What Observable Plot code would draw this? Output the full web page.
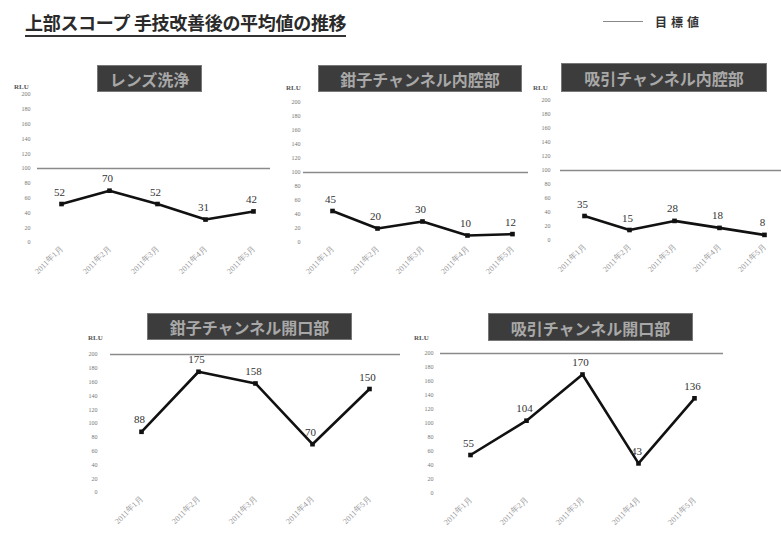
<!DOCTYPE html>
<html>
<head>
<meta charset="utf-8">
<script src="https://cdn.jsdelivr.net/npm/d3@7"></script>
<script src="https://cdn.jsdelivr.net/npm/@observablehq/plot@0.6"></script>
<style>
  body { margin: 0; background: #fff; }
  #wrap { position: relative; width: 781px; height: 535px; overflow: hidden; background: #fff;
          font-family: "Noto Sans CJK JP", "Noto Sans", sans-serif; }
  .abs { position: absolute; }
  .title { left: 25px; top: 9px; font-size: 18px; letter-spacing: -0.3px; color: #2a2a2a; font-weight: bold;
           border-bottom: 2.5px solid #333; line-height: 26px; white-space: nowrap; }
  .legline { left: 603px; top: 21px; width: 40px; height: 0; border-top: 1.5px solid #888; }
  .legtext { left: 655px; top: 13px; font-size: 12px; letter-spacing: 4px; color: #333; font-weight: bold; }
  .pt { background: #3c3c3c; color: #a8a8a8; border: 1px solid #777; text-align: center; font-weight: bold;
        font-size: 16px; line-height: 26px; white-space: nowrap; overflow: hidden; box-sizing: border-box; }
  .rlu { font-size: 7px; color: #555; font-family: "Liberation Serif", "Times New Roman", serif; font-weight: bold; }
  svg text { font-family: "Liberation Serif", "Times New Roman", serif; }
</style>
</head>
<body>
<div id="wrap">
  <div class="abs title">上部スコープ 手技改善後の平均値の推移</div>
  <div class="abs legline"></div>
  <div class="abs legtext">目標値</div>
</div>
<script>
// ---- data ----
const months = ["2011年1月", "2011年2月", "2011年3月", "2011年4月", "2011年5月"];
const yTicks = [0, 20, 40, 60, 80, 100, 120, 140, 160, 180, 200];
const panelNames = ["レンズ洗浄", "鉗子チャンネル内腔部", "吸引チャンネル内腔部", "鉗子チャンネル開口部", "吸引チャンネル開口部"];
const lensValues = [52, 70, 52, 31, 42];
const forcepsInnerValues = [45, 20, 30, 10, 12];
const suctionInnerValues = [35, 15, 28, 18, 8];
const forcepsOpeningValues = [88, 175, 158, 70, 150];
const suctionOpeningValues = [55, 104, 170, 43, 136];
const targets = [100, 100, 100, 200, 200];

const seriesList = [lensValues, forcepsInnerValues, suctionInnerValues, forcepsOpeningValues, suctionOpeningValues];

// ---- layout (positions only) ----
const layouts = [
  {left: 0,   top: 80,  width: 272, height: 215, mL: 37, mR: 2,  mT: 14, mB: 53, iL: 23, iR: 17, pad: 7,
   box: [97, 65, 105, 27], rlu: [14, 83]},
  {left: 270, top: 80,  width: 260, height: 215, mL: 33, mR: 2,  mT: 22, mB: 53, iL: 28, iR: 15, pad: 3,
   box: [318, 65, 204, 27], rlu: [286, 84]},
  {left: 530, top: 80,  width: 251, height: 215, mL: 30, mR: 0,  mT: 20, mB: 55, iL: 22, iR: 16, pad: 10,
   box: [561, 63, 206, 29], rlu: [533, 84]},
  {left: 60,  top: 345, width: 340, height: 190, mL: 50, mR: 0,  mT: 9,  mB: 43, iL: 30, iR: 30, pad: 13,
   box: [147, 313, 205, 27], rlu: [88, 334]},
  {left: 400, top: 345, width: 381, height: 190, mL: 40, mR: 58, mT: 8,  mB: 42, iL: 28, iR: 28, pad: 7,
   box: [488, 313, 205, 28], rlu: [414, 334]}
];

const wrap = document.getElementById("wrap");
const serif = "'Liberation Serif', 'Times New Roman', serif";

seriesList.forEach((vals, i) => {
  const L = layouts[i];
  const data = months.map((m, j) => ({month: m, value: vals[j]}));
  const chart = Plot.plot({
    width: L.width,
    height: L.height,
    marginLeft: L.mL, marginRight: L.mR, marginTop: L.mT, marginBottom: L.mB,
    style: {background: "transparent", fontFamily: serif, color: "#777"},
    x: {type: "point", domain: months, padding: 0, insetLeft: L.iL, insetRight: L.iR},
    y: {domain: [0, 200]},
    marks: [
      Plot.axisY({ticks: yTicks, tickSize: 0, tickPadding: L.pad, fontSize: 6, label: null, fill: "#777", fontFamily: serif}),
      Plot.axisX({tickRotate: -45, tickSize: 0, tickPadding: 5, fontSize: 8, label: null, fill: "#999", fontFamily: serif}),
      Plot.ruleY([targets[i]], {stroke: "#8a8a8a", strokeWidth: 1.6}),
      Plot.line(data, {x: "month", y: "value", stroke: "#111", strokeWidth: 2.6}),
      Plot.dot(data, {x: "month", y: "value", symbol: "square", r: 2.6, fill: "#111"}),
      Plot.text(data, {x: "month", y: "value", text: d => String(d.value), dy: -12, dx: -2,
                       fontSize: 11, fill: "#333", fontFamily: serif})
    ]
  });
  chart.style.position = "absolute";
  chart.style.left = L.left + "px";
  chart.style.top = L.top + "px";
  wrap.appendChild(chart);

  const box = document.createElement("div");
  box.className = "abs pt";
  box.style.left = L.box[0] + "px";
  box.style.top = L.box[1] + "px";
  box.style.width = L.box[2] + "px";
  box.style.height = L.box[3] + "px";
  box.style.lineHeight = L.box[3] + "px";
  box.textContent = panelNames[i];
  wrap.appendChild(box);

  const rlu = document.createElement("div");
  rlu.className = "abs rlu";
  rlu.style.left = L.rlu[0] + "px";
  rlu.style.top = L.rlu[1] + "px";
  rlu.textContent = "RLU";
  wrap.appendChild(rlu);
});
</script>
</body>
</html>
